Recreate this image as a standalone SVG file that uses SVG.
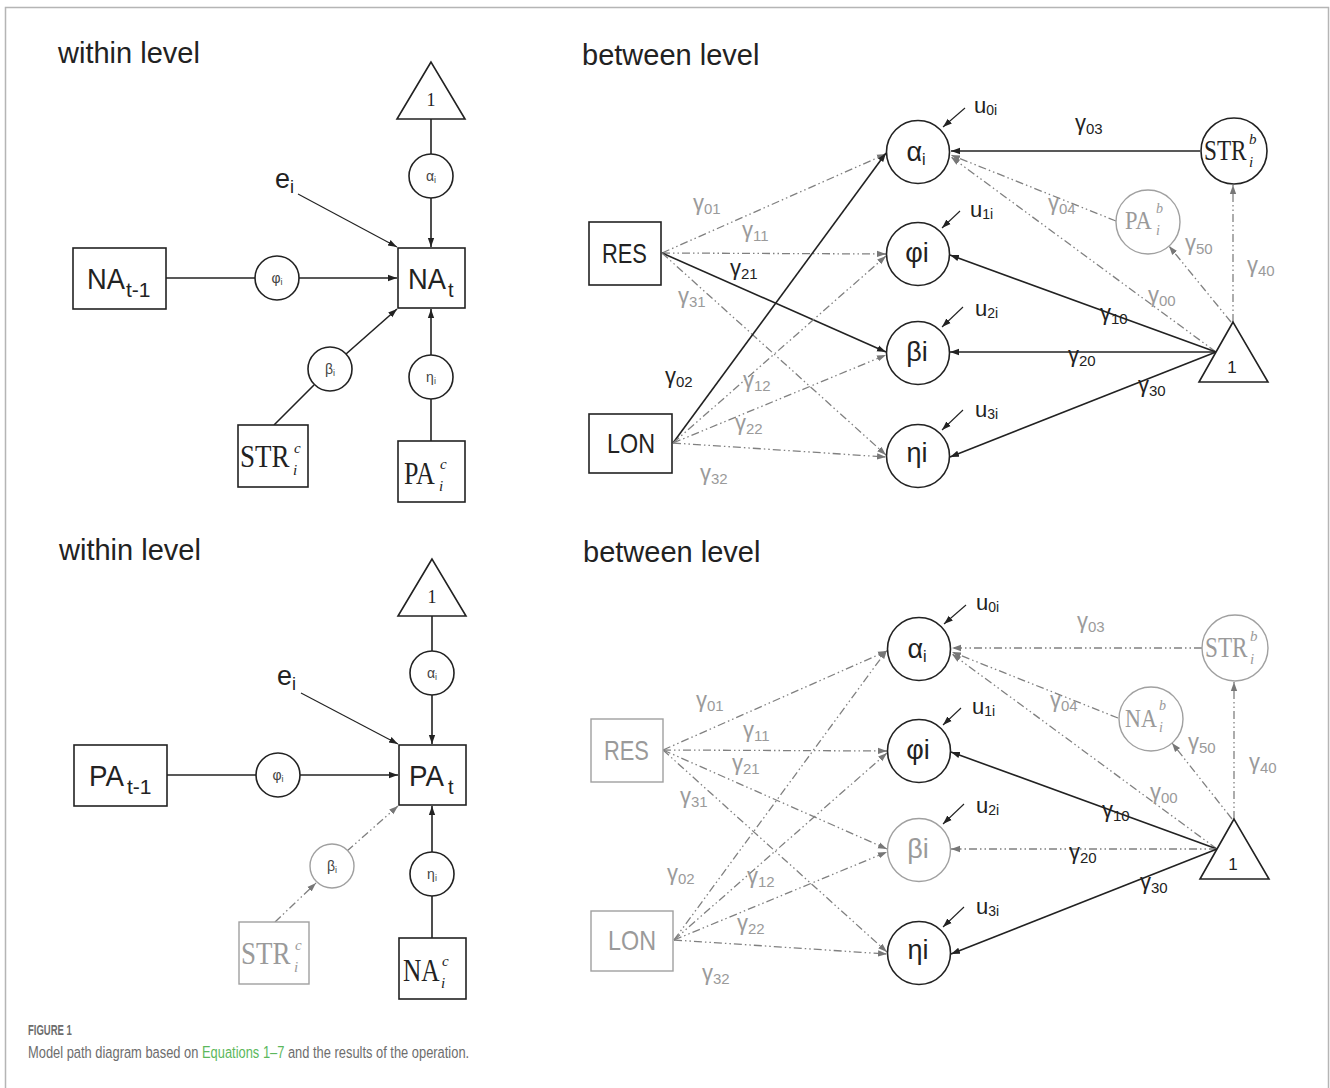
<svg xmlns="http://www.w3.org/2000/svg" width="1330" height="1088" viewBox="0 0 1330 1088">
<defs>
<marker id="ab" viewBox="0 0 10 10" refX="10" refY="5" markerWidth="9" markerHeight="9" markerUnits="userSpaceOnUse" orient="auto"><path d="M0,1.5 L10,5 L0,8.5 z" fill="#222"/></marker>
<marker id="ag" viewBox="0 0 10 10" refX="10" refY="5" markerWidth="9" markerHeight="9" markerUnits="userSpaceOnUse" orient="auto"><path d="M0,1.5 L10,5 L0,8.5 z" fill="#777"/></marker>
</defs>
<style>
.s{stroke:#222;stroke-width:1.6;fill:none}
.sa{stroke:#222;stroke-width:1.6;fill:none;marker-end:url(#ab)}
.th{stroke-width:1.1}
.d{stroke:#808080;stroke-width:1.3;fill:none;stroke-dasharray:8 3 1.5 3 1.5 3;marker-end:url(#ag)}
.n{fill:#fff;stroke:#222;stroke-width:1.6}
.gn{fill:#fff;stroke:#a0a0a0;stroke-width:1.4}
text{font-family:"Liberation Sans","DejaVu Sans",sans-serif;fill:#222}
.sf{font-family:"Liberation Serif","DejaVu Serif",serif}
.it{font-style:italic}
.gy{fill:#9a9a9a}
.k{fill:#222}
.g{font-size:22px}
.sb{font-size:15px}
.ttl{font-size:29px;fill:#222}
.cl{font-size:14px;fill:#444}
.cap{fill:#6d6d6d}
</style>
<rect x="5.5" y="7.5" width="1323" height="1110" fill="none" stroke="#b5b5b5" stroke-width="1.5"/>

<!-- ================= TOP WITHIN LEVEL ================= -->
<text class="ttl" x="58" y="63">within level</text>
<g id="top-within-connectors">
<line class="s" x1="431" y1="119" x2="431" y2="154"/>
<line class="sa" x1="431" y1="198" x2="431" y2="247"/>
<line class="s" x1="166" y1="278" x2="255" y2="278"/>
<line class="sa" x1="299" y1="278" x2="397" y2="278"/>
<line class="sa th" x1="298" y1="194" x2="397" y2="247"/>
<line class="s" x1="274" y1="425" x2="314" y2="385"/>
<line class="sa" x1="346" y1="354" x2="397" y2="309"/>
<line class="s" x1="431" y1="441" x2="431" y2="399"/>
<line class="sa" x1="431" y1="355" x2="431" y2="309"/>
</g>
<g id="tw-one"><polygon class="n" points="431,62 397,119 465,119"/><text class="sf" x="431" y="106" font-size="18" text-anchor="middle">1</text></g>
<g id="tw-alpha"><circle class="n" cx="431" cy="176" r="22"/><text class="cl" x="431" y="181" text-anchor="middle">α<tspan font-size="9" dy="2">i</tspan></text></g>
<g id="tw-NAt"><rect class="n" x="398" y="248" width="67" height="60"/><text transform="translate(408,289) scale(0.91,1)" font-size="30">NA</text><text x="448" y="297" font-size="20">t</text></g>
<g id="tw-NAt1"><rect class="n" x="73" y="248" width="93" height="61"/><text transform="translate(87,289) scale(0.91,1)" font-size="30">NA</text><text x="126" y="297" font-size="21">t-1</text></g>
<g id="tw-phi"><circle class="n" cx="277" cy="278" r="22"/><text class="cl" x="277" y="283" text-anchor="middle">φ<tspan font-size="9" dy="2">i</tspan></text></g>
<g id="tw-e"><text x="275" y="188" font-size="27">e<tspan font-size="18" dy="5">i</tspan></text></g>
<g id="tw-beta"><circle class="n" cx="330" cy="369" r="22"/><text class="cl" x="330" y="374" text-anchor="middle">β<tspan font-size="9" dy="2">i</tspan></text></g>
<g id="tw-eta"><circle class="n" cx="431" cy="377" r="22"/><text class="cl" x="431" y="382" text-anchor="middle">η<tspan font-size="9" dy="2">i</tspan></text></g>
<g id="tw-STR"><rect class="n" x="238" y="425" width="70" height="62"/><text class="sf" transform="translate(240,467) scale(0.87,1)" font-size="31">STR</text><text class="sf it" x="294" y="453" font-size="15">c</text><text class="sf it" x="293" y="475" font-size="15">i</text></g>
<g id="tw-PA"><rect class="n" x="398" y="441" width="67" height="61"/><text class="sf" transform="translate(404,484) scale(0.84,1)" font-size="31">PA</text><text class="sf it" x="440" y="469" font-size="15">c</text><text class="sf it" x="439" y="491" font-size="15">i</text></g>

<!-- ================= TOP BETWEEN LEVEL ================= -->
<text class="ttl" x="582" y="65">between level</text>
<g id="top-between-connectors">
<line class="d" x1="662" y1="253" x2="886" y2="154"/>
<line class="d" x1="662" y1="253" x2="886" y2="254"/>
<line class="sa" x1="662" y1="253" x2="886" y2="352"/>
<line class="d" x1="662" y1="253" x2="886" y2="455"/>
<line class="sa" x1="673" y1="443" x2="886" y2="153"/>
<line class="d" x1="673" y1="443" x2="886" y2="256"/>
<line class="d" x1="673" y1="443" x2="886" y2="355"/>
<line class="d" x1="673" y1="443" x2="886" y2="457"/>
<line class="sa" x1="1200" y1="151" x2="951" y2="151"/>
<line class="d" x1="1116" y1="221" x2="951" y2="155"/>
<line class="d" x1="1216" y1="352" x2="951" y2="157"/>
<line class="sa" x1="1216" y1="352" x2="950" y2="255"/>
<line class="sa" x1="1216" y1="352" x2="950" y2="352"/>
<line class="sa" x1="1216" y1="352" x2="950" y2="457"/>
<line class="d" x1="1231" y1="322" x2="1169" y2="246"/>
<line class="d" x1="1233" y1="322" x2="1233" y2="185"/>
<line class="sa th" x1="965" y1="108" x2="943" y2="127"/>
<line class="sa th" x1="960" y1="211" x2="942" y2="228"/>
<line class="sa th" x1="963" y1="307" x2="942" y2="327"/>
<line class="sa th" x1="963" y1="410" x2="942" y2="430"/>
<text class="g gy" x="693" y="210">γ<tspan class="sb" dy="4">01</tspan></text>
<text class="g gy" x="742" y="237">γ<tspan class="sb" dy="4">11</tspan></text>
<text class="g k" x="730" y="275">γ<tspan class="sb" dy="4">21</tspan></text>
<text class="g gy" x="678" y="303">γ<tspan class="sb" dy="4">31</tspan></text>
<text class="g k" x="665" y="383">γ<tspan class="sb" dy="4">02</tspan></text>
<text class="g gy" x="743" y="387">γ<tspan class="sb" dy="4">12</tspan></text>
<text class="g gy" x="735" y="430">γ<tspan class="sb" dy="4">22</tspan></text>
<text class="g gy" x="700" y="480">γ<tspan class="sb" dy="4">32</tspan></text>
<text class="g k" x="1075" y="130">γ<tspan class="sb" dy="4">03</tspan></text>
<text class="g gy" x="1048" y="210">γ<tspan class="sb" dy="4">04</tspan></text>
<text class="g gy" x="1185" y="250">γ<tspan class="sb" dy="4">50</tspan></text>
<text class="g gy" x="1247" y="272">γ<tspan class="sb" dy="4">40</tspan></text>
<text class="g gy" x="1148" y="302">γ<tspan class="sb" dy="4">00</tspan></text>
<text class="g k" x="1100" y="320">γ<tspan class="sb" dy="4">10</tspan></text>
<text class="g k" x="1068" y="362">γ<tspan class="sb" dy="4">20</tspan></text>
<text class="g k" x="1138" y="392">γ<tspan class="sb" dy="4">30</tspan></text>
</g>
<g id="tb-RES"><rect class="n" x="589" y="222" width="72" height="63"/><text transform="translate(602,263) scale(0.81,1)" font-size="27">RES</text></g>
<g id="tb-LON"><rect class="n" x="589" y="414" width="83" height="59"/><text transform="translate(607,453) scale(0.865,1)" font-size="27">LON</text></g>
<g id="tb-alpha"><circle class="n" cx="918" cy="152" r="31.5"/><text x="916" y="161" font-size="27" text-anchor="middle">α<tspan font-size="16" dy="4">i</tspan></text></g>
<g id="tb-phi"><circle class="n" cx="918" cy="254" r="31.5"/><text x="917" y="262" font-size="27" text-anchor="middle">φi</text></g>
<g id="tb-beta"><circle class="n" cx="918" cy="353" r="31.5"/><text x="917" y="361" font-size="27" text-anchor="middle">βi</text></g>
<g id="tb-eta"><circle class="n" cx="918" cy="456" r="31.5"/><text x="917" y="462" font-size="27" text-anchor="middle">ηi</text></g>
<g id="tb-STRb"><circle class="n" cx="1234" cy="151" r="33"/><text class="sf" transform="translate(1204,160) scale(0.8,1)" font-size="29">STR</text><text class="sf it" x="1249" y="144" font-size="15">b</text><text class="sf it" x="1249" y="167" font-size="15">i</text></g>
<g id="tb-PAb"><circle class="gn" cx="1148" cy="222" r="32"/><text class="sf gy" transform="translate(1125,229) scale(0.9,1)" font-size="25">PA</text><text class="sf it gy" x="1156" y="213" font-size="14">b</text><text class="sf it gy" x="1156" y="235" font-size="14">i</text></g>
<g id="tb-one"><polygon class="n" points="1233,322 1199,382 1268,382"/><text x="1232" y="373" font-size="17" text-anchor="middle">1</text></g>
<g id="tb-u0"><text x="974" y="113" font-size="22">u<tspan font-size="14" dy="2">0i</tspan></text></g>
<g id="tb-u1"><text x="970" y="217" font-size="22">u<tspan font-size="14" dy="2">1i</tspan></text></g>
<g id="tb-u2"><text x="975" y="316" font-size="22">u<tspan font-size="14" dy="2">2i</tspan></text></g>
<g id="tb-u3"><text x="975" y="417" font-size="22">u<tspan font-size="14" dy="2">3i</tspan></text></g>

<!-- ================= BOTTOM PANELS ================= -->
<g transform="translate(1,497)">
<text class="ttl" x="58" y="63">within level</text>
<g id="bottom-within-connectors">
<line class="s" x1="431" y1="119" x2="431" y2="154"/>
<line class="sa" x1="431" y1="198" x2="431" y2="247"/>
<line class="s" x1="166" y1="278" x2="255" y2="278"/>
<line class="sa" x1="299" y1="278" x2="397" y2="278"/>
<line class="sa th" x1="300" y1="196" x2="397" y2="247"/>
<line class="d" x1="274" y1="425" x2="315" y2="386"/>
<line class="d" x1="346" y1="354" x2="397" y2="309"/>
<line class="s" x1="431" y1="441" x2="431" y2="399"/>
<line class="sa" x1="431" y1="355" x2="431" y2="309"/>
</g>
<g id="bw-one"><polygon class="n" points="431,62 397,119 465,119"/><text class="sf" x="431" y="106" font-size="18" text-anchor="middle">1</text></g>
<g id="bw-alpha"><circle class="n" cx="431" cy="176" r="22"/><text class="cl" x="431" y="181" text-anchor="middle">α<tspan font-size="9" dy="2">i</tspan></text></g>
<g id="bw-PAt"><rect class="n" x="398" y="248" width="67" height="60"/><text transform="translate(408,289) scale(0.925,1)" font-size="30">PA</text><text x="447" y="297" font-size="20">t</text></g>
<g id="bw-PAt1"><rect class="n" x="73" y="248" width="93" height="61"/><text transform="translate(88,289) scale(0.925,1)" font-size="30">PA</text><text x="126" y="297" font-size="21">t-1</text></g>
<g id="bw-phi"><circle class="n" cx="277" cy="278" r="22"/><text class="cl" x="277" y="283" text-anchor="middle">φ<tspan font-size="9" dy="2">i</tspan></text></g>
<g id="bw-e"><text x="276" y="188" font-size="27">e<tspan font-size="18" dy="5">i</tspan></text></g>
<g id="bw-beta"><circle class="gn" cx="331" cy="369" r="22"/><text class="cl gy" x="331" y="374" text-anchor="middle">β<tspan font-size="9" dy="2">i</tspan></text></g>
<g id="bw-eta"><circle class="n" cx="431" cy="377" r="22"/><text class="cl" x="431" y="382" text-anchor="middle">η<tspan font-size="9" dy="2">i</tspan></text></g>
<g id="bw-STR"><rect class="gn" x="238" y="425" width="70" height="62"/><text class="sf gy" transform="translate(240,467) scale(0.87,1)" font-size="31">STR</text><text class="sf it gy" x="294" y="453" font-size="15">c</text><text class="sf it gy" x="293" y="475" font-size="15">i</text></g>
<g id="bw-NA"><rect class="n" x="398" y="441" width="67" height="61"/><text class="sf" transform="translate(402,484) scale(0.82,1)" font-size="31">NA</text><text class="sf it" x="441" y="469" font-size="15">c</text><text class="sf it" x="440" y="491" font-size="15">i</text></g>

<text class="ttl" x="582" y="65">between level</text>
<g id="bottom-between-connectors">
<line class="d" x1="662" y1="253" x2="886" y2="154"/>
<line class="d" x1="662" y1="253" x2="886" y2="254"/>
<line class="d" x1="662" y1="253" x2="886" y2="352"/>
<line class="d" x1="662" y1="253" x2="886" y2="455"/>
<line class="d" x1="673" y1="443" x2="886" y2="153"/>
<line class="d" x1="673" y1="443" x2="886" y2="256"/>
<line class="d" x1="673" y1="443" x2="886" y2="355"/>
<line class="d" x1="673" y1="443" x2="886" y2="457"/>
<line class="d" x1="1201" y1="151" x2="951" y2="151"/>
<line class="d" x1="1117" y1="221" x2="951" y2="155"/>
<line class="d" x1="1216" y1="352" x2="951" y2="157"/>
<line class="sa" x1="1216" y1="352" x2="950" y2="255"/>
<line class="d" x1="1216" y1="352" x2="950" y2="352"/>
<line class="sa" x1="1216" y1="352" x2="950" y2="457"/>
<line class="d" x1="1231" y1="322" x2="1171" y2="246"/>
<line class="d" x1="1233" y1="322" x2="1233" y2="185"/>
<line class="sa th" x1="965" y1="108" x2="943" y2="127"/>
<line class="sa th" x1="960" y1="211" x2="942" y2="228"/>
<line class="sa th" x1="963" y1="307" x2="942" y2="327"/>
<line class="sa th" x1="963" y1="410" x2="942" y2="430"/>
<text class="g gy" x="695" y="210">γ<tspan class="sb" dy="4">01</tspan></text>
<text class="g gy" x="742" y="240">γ<tspan class="sb" dy="4">11</tspan></text>
<text class="g gy" x="731" y="273">γ<tspan class="sb" dy="4">21</tspan></text>
<text class="g gy" x="679" y="306">γ<tspan class="sb" dy="4">31</tspan></text>
<text class="g gy" x="666" y="383">γ<tspan class="sb" dy="4">02</tspan></text>
<text class="g gy" x="746" y="386">γ<tspan class="sb" dy="4">12</tspan></text>
<text class="g gy" x="736" y="433">γ<tspan class="sb" dy="4">22</tspan></text>
<text class="g gy" x="701" y="483">γ<tspan class="sb" dy="4">32</tspan></text>
<text class="g gy" x="1076" y="131">γ<tspan class="sb" dy="4">03</tspan></text>
<text class="g gy" x="1049" y="210">γ<tspan class="sb" dy="4">04</tspan></text>
<text class="g gy" x="1187" y="252">γ<tspan class="sb" dy="4">50</tspan></text>
<text class="g gy" x="1248" y="272">γ<tspan class="sb" dy="4">40</tspan></text>
<text class="g gy" x="1149" y="302">γ<tspan class="sb" dy="4">00</tspan></text>
<text class="g k" x="1101" y="320">γ<tspan class="sb" dy="4">10</tspan></text>
<text class="g k" x="1068" y="362">γ<tspan class="sb" dy="4">20</tspan></text>
<text class="g k" x="1139" y="392">γ<tspan class="sb" dy="4">30</tspan></text>
</g>
<g id="bb-RES"><rect class="gn" x="590" y="222" width="72" height="63"/><text class="gy" transform="translate(603,263) scale(0.81,1)" font-size="27">RES</text></g>
<g id="bb-LON"><rect class="gn" x="590" y="414" width="82" height="60"/><text class="gy" transform="translate(607,453) scale(0.865,1)" font-size="27">LON</text></g>
<g id="bb-alpha"><circle class="n" cx="918" cy="152" r="31.5"/><text x="916" y="161" font-size="27" text-anchor="middle">α<tspan font-size="16" dy="4">i</tspan></text></g>
<g id="bb-phi"><circle class="n" cx="918" cy="254" r="31.5"/><text x="917" y="262" font-size="27" text-anchor="middle">φi</text></g>
<g id="bb-beta"><circle class="gn" cx="918" cy="353" r="31.5"/><text class="gy" x="917" y="361" font-size="27" text-anchor="middle">βi</text></g>
<g id="bb-eta"><circle class="n" cx="918" cy="456" r="31.5"/><text x="917" y="462" font-size="27" text-anchor="middle">ηi</text></g>
<g id="bb-STRb"><circle class="gn" cx="1234" cy="151" r="33"/><text class="sf gy" transform="translate(1204,160) scale(0.8,1)" font-size="29">STR</text><text class="sf it gy" x="1249" y="144" font-size="15">b</text><text class="sf it gy" x="1249" y="167" font-size="15">i</text></g>
<g id="bb-NAb"><circle class="gn" cx="1150" cy="222" r="32"/><text class="sf gy" transform="translate(1124,230) scale(0.88,1)" font-size="25">NA</text><text class="sf it gy" x="1158" y="213" font-size="14">b</text><text class="sf it gy" x="1158" y="235" font-size="14">i</text></g>
<g id="bb-one"><polygon class="n" points="1233,322 1199,382 1268,382"/><text x="1232" y="373" font-size="17" text-anchor="middle">1</text></g>
<g id="bb-u0"><text x="975" y="113" font-size="22">u<tspan font-size="14" dy="2">0i</tspan></text></g>
<g id="bb-u1"><text x="971" y="217" font-size="22">u<tspan font-size="14" dy="2">1i</tspan></text></g>
<g id="bb-u2"><text x="975" y="316" font-size="22">u<tspan font-size="14" dy="2">2i</tspan></text></g>
<g id="bb-u3"><text x="975" y="417" font-size="22">u<tspan font-size="14" dy="2">3i</tspan></text></g>
</g>

<!-- caption -->
<text class="cap" transform="translate(28,1035) scale(0.68,1)" font-size="14" font-weight="bold">FIGURE 1</text>
<text class="cap" transform="translate(28,1058) scale(0.758,1)" font-size="17">Model path diagram based on <tspan style="fill:#5cb85c">Equations 1–7</tspan> and the results of the operation.</text>
</svg>
